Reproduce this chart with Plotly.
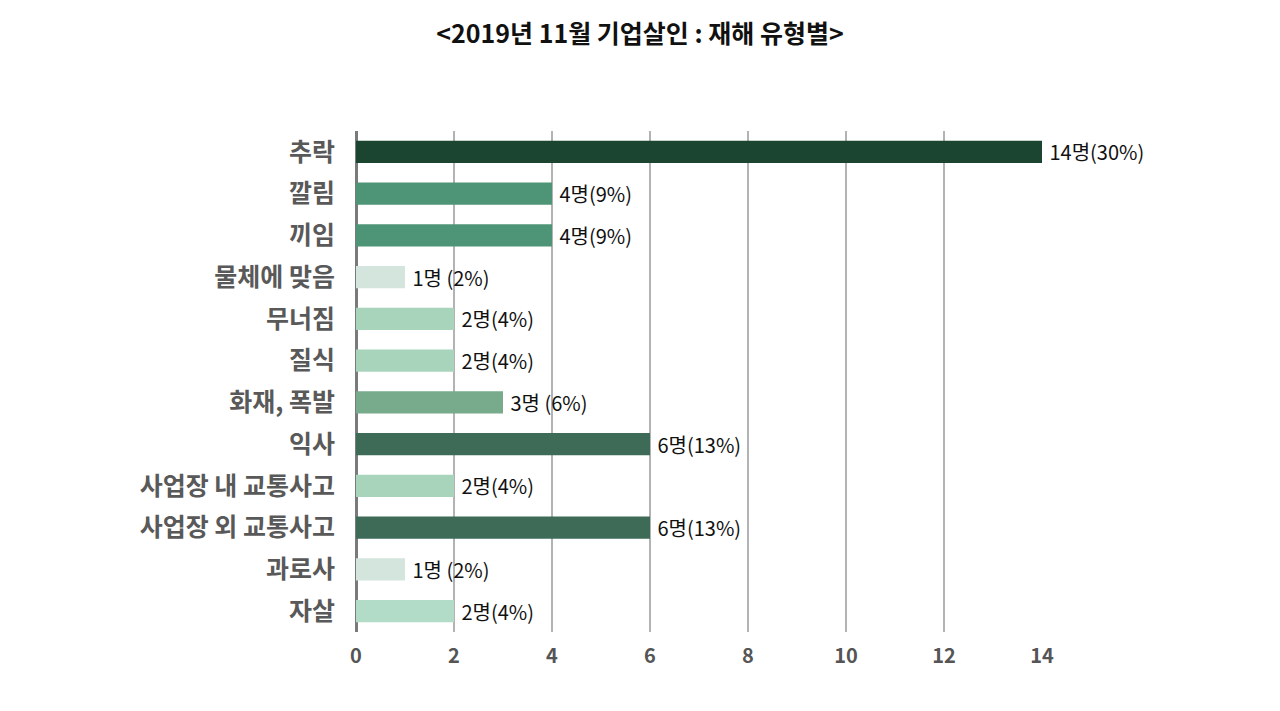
import plotly.graph_objects as go

# ============================================================
# Data
# ============================================================
CATEGORIES = ["추락", "깔림", "끼임", "물체에 맞음", "무너짐", "질식", "화재, 폭발",
              "익사", "사업장 내 교통사고", "사업장 외 교통사고", "과로사", "자살"]
DEATHS = [14, 4, 4, 1, 2, 2, 3, 6, 2, 6, 1, 2]
LABELS = ["14명(30%)", "4명(9%)", "4명(9%)", "1명 (2%)", "2명(4%)", "2명(4%)",
          "3명 (6%)", "6명(13%)", "2명(4%)", "6명(13%)", "1명 (2%)", "2명(4%)"]
BAR_COLORS = ["#1b4531", "#4e9477", "#4e9477", "#d3e5dd", "#a8d4bc", "#a8d4bc",
              "#78aa8c", "#3e6b58", "#a8d4bc", "#3e6b58", "#d3e5dd", "#b2dcc7"]
X_TICKS = [0, 2, 4, 6, 8, 10, 12, 14]

FONT = "Noto Sans CJK KR"

fig = go.Figure()

fig.add_trace(go.Bar(
    x=DEATHS, y=CATEGORIES, orientation="h",
    marker=dict(color=BAR_COLORS, line=dict(width=0)),
    text=LABELS, texttemplate=" %{text}", textposition="outside",
    cliponaxis=False, constraintext="none",
    textfont=dict(family=FONT, size=20, color="#111111"),
    hoverinfo="x+y",
))

# page body has an 8px margin, so the figure is a bit smaller than the window
fig.update_layout(
    title=dict(text="<b>&lt;2019년 11월 기업살인 : 재해 유형별&gt;</b>",
               x=0.5, xanchor="center", y=0.962, yanchor="middle",
               font=dict(family=FONT, size=25, color="#111111")),
    width=1264, height=695,
    paper_bgcolor="white", plot_bgcolor="white",
    margin=dict(l=348, r=230, t=123, b=71),
    bargap=0.47,
    showlegend=False,
    font=dict(family=FONT),
    xaxis=dict(
        range=[0, 14], tickvals=X_TICKS,
        showgrid=True, gridcolor="#b3b3b3", gridwidth=2,
        zeroline=True, zerolinecolor="#7a7a7a", zerolinewidth=3,
        tickfont=dict(family=FONT, size=20, color="#555555", weight="bold"),
        ticks="", ticklabelstandoff=10,
    ),
    yaxis=dict(
        autorange="reversed", showgrid=False, zeroline=False,
        tickfont=dict(family=FONT, size=25, color="#595959", weight="bold"),
        ticks="", ticklabelstandoff=20,
    ),
)

fig.write_html("out.html")
